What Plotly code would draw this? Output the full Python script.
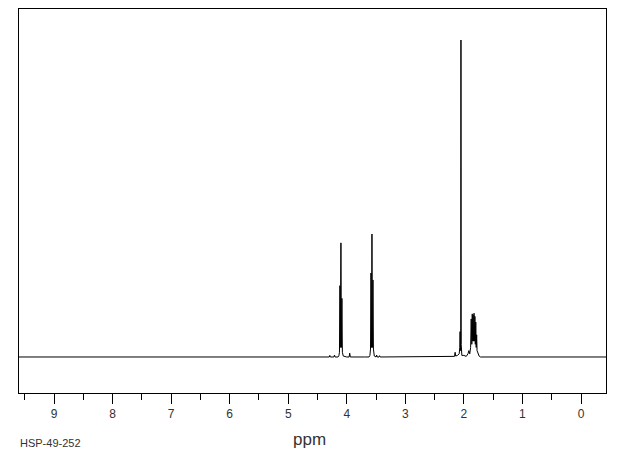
import plotly.graph_objects as go

# Trace vertices (chemical shift in ppm, relative intensity)
ppm = [9.60, 4.40, 4.30, 4.29, 4.28, 4.22, 4.21, 4.20, 4.15, 4.135,
       4.125, 4.117, 4.110, 4.100, 4.092, 4.083, 4.075, 4.06,
       4.00, 3.96, 3.95, 3.94, 3.70, 3.62, 3.605,
       3.595, 3.587, 3.578, 3.570, 3.562, 3.553, 3.545, 3.53,
       3.50, 3.49, 3.48, 3.45, 3.44, 3.43, 2.20, 2.16, 2.15, 2.14,
       2.11, 2.08, 2.070, 2.065, 2.060, 2.054, 2.050, 2.046, 2.035,
       2.00, 1.96, 1.93, 1.915, 1.90, 1.885,
       1.875, 1.865, 1.857, 1.850, 1.842, 1.835, 1.827, 1.820, 1.812,
       1.805, 1.797, 1.790, 1.782, 1.775, 1.76, 1.74, 1.72, 1.68, -0.43]
intensity = [0, 0, 0, 0.5, 0, 0, 0.6, 0, 0, 0.4,
             1.5, 22.5, 3, 36, 3, 18.5, 1.5, 0.3,
             0, 0, 1.2, 0, 0, 0, 0.5,
             2.5, 26.5, 3, 38.8, 3, 24.3, 2.5, 0.3,
             0, 0.6, 0, 0, 0.4, 0, 0, 0.2, 1.5, 0.3,
             0.5, 1.0, 3, 8, 2, 5, 100, 4, 0.5,
             0.5, 0.2, 1.0, 2.0, 1.0, 3,
             12, 4, 13.6, 5, 13.2, 5, 13.8, 5, 12.8,
             4, 11, 3, 7, 2, 1.0, 0.3, 0, 0, 0]

tick_vals = [9, 8, 7, 6, 5, 4, 3, 2, 1, 0]
tick_text = ["9", "8", "7", "6", "5", "4", "3", "2", "1", "0"]

fig = go.Figure()
fig.add_trace(go.Scatter(x=ppm, y=intensity, mode="lines",
                         line=dict(color="black", width=1),
                         hoverinfo="skip", showlegend=False))

fig.update_layout(
    width=612, height=447,
    margin=dict(l=11, r=14, t=1, b=62),
    paper_bgcolor="white", plot_bgcolor="white",
    font=dict(family="Liberation Sans", color="#333"),
    xaxis=dict(range=[9.598, -0.427], tickvals=tick_vals, ticktext=tick_text,
               ticks="outside", ticklen=10, tickwidth=1, tickcolor="black",
               showline=True, linecolor="black", linewidth=1, mirror=True,
               showgrid=False, zeroline=False,
               tickfont=dict(size=12, color="#333"),
               minor=dict(dtick=0.5, tick0=0, ticks="outside", ticklen=6,
                          tickwidth=1, tickcolor="black", showgrid=False)),
    yaxis=dict(range=[-11.36, 109.78], showticklabels=False, ticks="",
               showline=True, linecolor="black", linewidth=1, mirror=True,
               showgrid=False, zeroline=False),
    annotations=[
        dict(text="ppm", x=0.4957, y=-0.122, xref="paper", yref="paper",
             xanchor="center", yanchor="middle", showarrow=False,
             font=dict(size=17, color="#333")),
        dict(text="HSP-49-252", x=-0.002, y=-0.130, xref="paper", yref="paper",
             xanchor="left", yanchor="middle", showarrow=False,
             font=dict(size=11, color="#333")),
    ],
)

fig.write_html("out.html")
